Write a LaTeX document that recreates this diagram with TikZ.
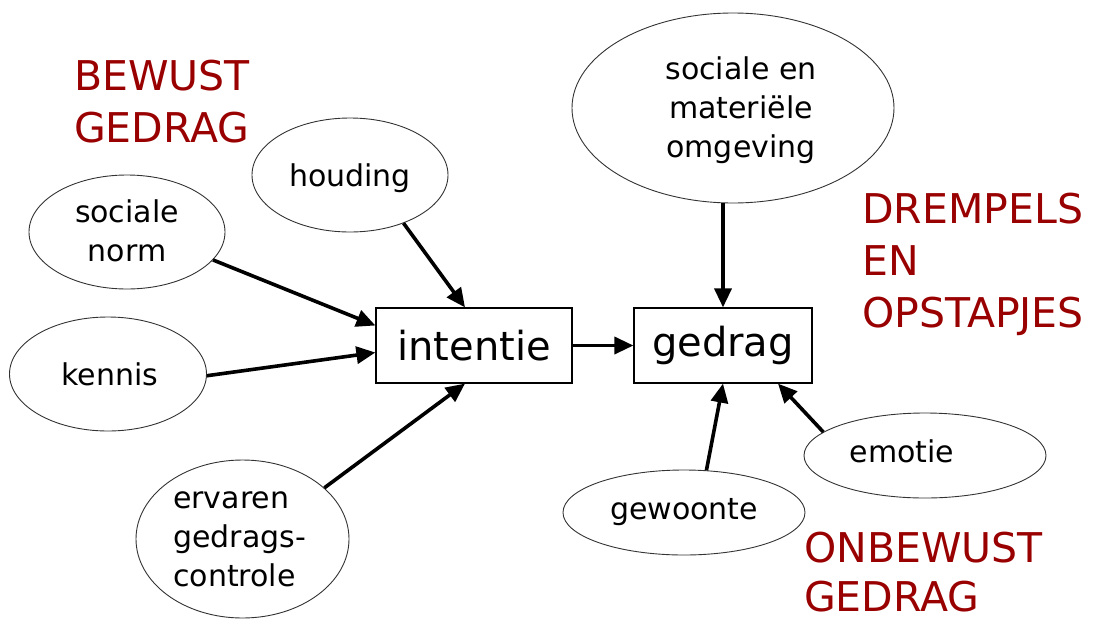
\documentclass[tikz,border=0pt]{standalone}
\usepackage{fontspec}
\setmainfont{DejaVu Sans}
\usetikzlibrary{shapes.geometric,arrows.meta}
\definecolor{lblred}{RGB}{153,0,0}
\begin{document}
\begin{tikzpicture}[x=1pt,y=-1pt,
  oval/.style={ellipse, draw=black!80, line width=0.9pt, inner sep=0pt},
  txt/.style={font=\fontsize{30}{39}\selectfont, inner sep=0pt, align=center},
  boxnode/.style={draw, line width=1.2pt, minimum width=196pt, minimum height=75pt, inner sep=0pt, font=\fontsize{40}{48}\selectfont},
  cat/.style={text=lblred, font=\fontsize{41}{52}\selectfont, inner sep=0pt, align=left, anchor=north west},
  arr/.style={line width=3.6pt, -{Triangle[length=19pt,width=17pt]}}]
\useasboundingbox (0,0) rectangle (1098,619);
% boxes
\node[boxnode] (int) at (474,345.5) {intentie};
\node[boxnode, minimum width=178pt] (ged) at (723,345.5) {gedrag};
% ellipses
\node[oval, minimum width=196pt, minimum height=114pt] (hou) at (350,175) {};
\node[txt, anchor=base] (houT) at (350,186) {houding};
\node[oval, minimum width=196pt, minimum height=114pt] (soc) at (127,232) {};
\node[txt] (socT) at (127,231) {sociale\\norm};
\node[oval, minimum width=197pt, minimum height=114pt] (ken) at (108,374) {};
\node[txt, anchor=base] (kenT) at (110,385) {kennis};
\node[oval, minimum width=213pt, minimum height=158pt] (erv) at (242.5,539) {};
\node[txt, align=left, anchor=west] (ervT) at (173,539) {ervaren\\gedrags-\\controle};
\node[oval, minimum width=322pt, minimum height=190pt] (omg) at (733,108) {};
\node[txt] (omgT) at (741,110) {sociale en\\materiële\\omgeving};
\node[oval, minimum width=242pt, minimum height=85pt] (emo) at (925,455.5) {};
\node[txt, anchor=base] (emoT) at (902,462) {emotie};
\node[oval, minimum width=242pt, minimum height=85pt] (gew) at (684,512.5) {};
\node[txt, anchor=base] (gewT) at (684,519) {gewoonte};
% category labels
\node[cat] (bew) at (74,60) {BEWUST\\GEDRAG};
\node[cat] (drem) at (862,193) {DREMPELS\\EN\\OPSTAPJES};
\node[cat, font=\fontsize{41}{49}\selectfont] (onb) at (804,531.5) {ONBEWUST\\GEDRAG};
% connectors
\draw[arr] (hou.-42) -- ([xshift=-9pt]int.north);
\draw[arr] (soc.-18) -- ([yshift=20pt]int.west);
\draw[arr] (ken.-1) -- ([yshift=-7pt]int.west);
\draw[arr] (erv.32) -- ([xshift=-9pt]int.south);
\draw[arr] (int.east) -- (ged.west);
\draw[arr] (ged.north |- omg.south) -- (ged.north);
\draw[arr] (gew.62) -- (ged.south);
\draw[arr] (emo.167) -- ([xshift=55pt]ged.south);
\end{tikzpicture}
\end{document}
